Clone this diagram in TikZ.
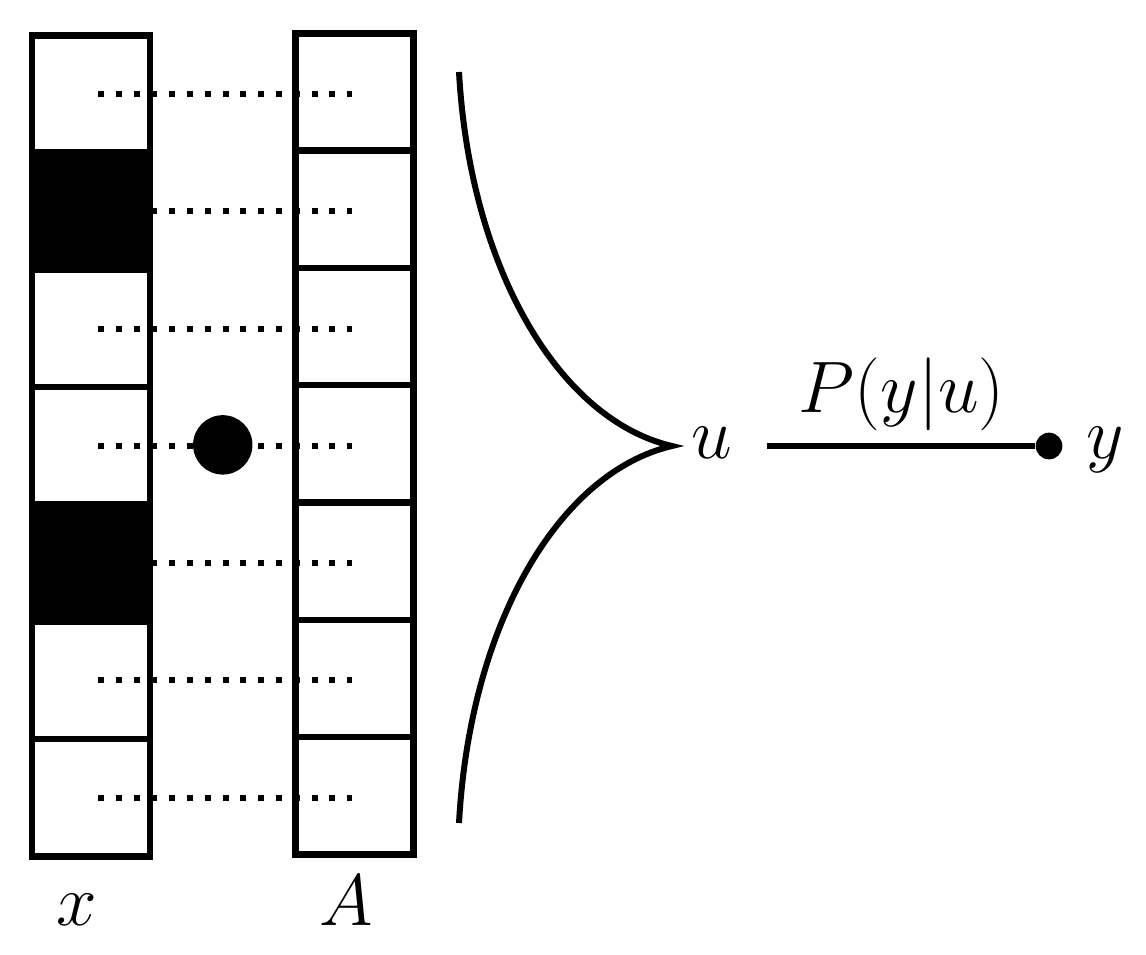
\documentclass[tikz,border=0pt]{standalone}
\usetikzlibrary{calc}

\begin{document}
\begin{tikzpicture}[x=0.1mm, y=-0.1mm, font=\huge,
    cell/.style={draw, line width=0.65mm, minimum width=11.8mm,
                 minimum height=11.73mm, inner sep=0pt},
    dots/.style={line width=0.6mm, dash pattern=on 0.6mm off 1.18mm},
    blob/.style={circle, fill, inner sep=0pt}]
  \useasboundingbox (0,0) rectangle (1146,954);

  % the two columns, x and A, seven cells each
  \foreach \i/\f in {1/white,2/black,3/white,4/white,5/black,6/white,7/white}
    {\node[cell, fill=\f] (x\i) at (91, {35.3+117.3*(\i-0.5)}) {};
     \node[cell] (a\i) at (354.5, {33.3+117.3*(\i-0.5)}) {};}

  % dotted links between matching cells
  \foreach \i in {1,...,7}
    {\draw[dots] ([xshift=0.7mm]x\i.center) -- ([xshift=-0.25mm]x\i.center -| a\i.center);}
  \node[blob, minimum size=5.94mm] (site) at ($(x4)!0.5!(a4)$) {};

  \node[anchor=base] (xlab) at (77,925) {$x$};
  \node[anchor=base] (alab) at (346,925) {$A$};

  % the cusp gathering all rows into u
  \coordinate (top) at (459,72);
  \coordinate (cusp) at (672,446);
  \coordinate (bot) at (459,823);
  \draw[line width=0.6mm]
      (top) .. controls (470,270) and (560,420) .. (cusp)
            .. controls (560,472) and (470,622) .. (bot);

  \node[anchor=base] (u) at (712,458) {$u$};
  \node[blob, minimum size=2.67mm] (dot) at (1049,446) {};
  \node[anchor=base] (y) at (1105,458) {$y$};
  \draw[line width=0.65mm, shorten <=2.2mm] (u.east |- dot) -- (dot)
      node[midway, above, xshift=1.2mm] {$P(y|u)$};
\end{tikzpicture}
\end{document}
